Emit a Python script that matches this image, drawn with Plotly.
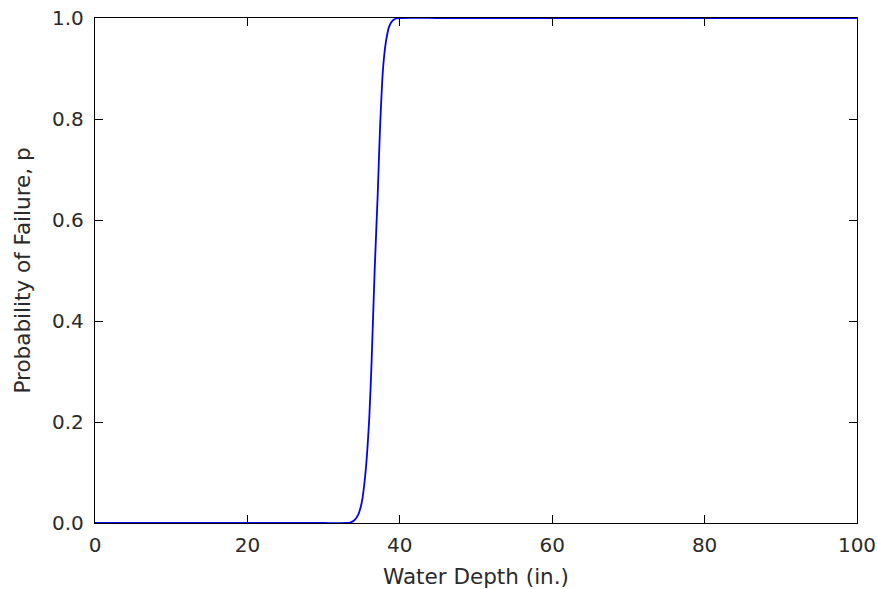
import plotly.graph_objects as go

# Water depth (in.) and probability of failure
depth = [0, 5, 10, 15, 20, 25, 30, 33, 33.5, 34, 34.5, 35, 35.5, 36, 36.3, 36.7,
         37.1, 37.4, 37.8, 38.2, 38.6, 39.0, 39.5, 40, 45, 50, 60, 70, 80, 90, 100]
prob = [0.0, 0.0, 0.0, 0.0, 0.0, 0.0, 0.0, 0.0, 0.001, 0.005, 0.015, 0.04, 0.10, 0.21,
        0.32, 0.50, 0.65, 0.78, 0.90, 0.955, 0.983, 0.994, 0.999, 1.0, 1.0, 1.0,
        1.0, 1.0, 1.0, 1.0, 1.0]

x_ticks = [0, 20, 40, 60, 80, 100]
y_ticks = [0.0, 0.2, 0.4, 0.6, 0.8, 1.0]
y_tick_labels = ["0.0", "0.2", "0.4", "0.6", "0.8", "1.0"]

TXT = "#2a2a2a"
FONT = "DejaVu Sans"

fig = go.Figure()
fig.add_trace(go.Scatter(x=depth, y=prob, mode="lines",
                         line=dict(color="#0000ff", width=1.8, shape="spline", smoothing=0.6),
                         showlegend=False, hoverinfo="skip"))

axis_common = dict(showline=True, linecolor="black", linewidth=1.4, mirror="ticks",
                   ticks="inside", ticklen=8, tickwidth=1, tickcolor="black",
                   showgrid=False, zeroline=False, automargin=False,
                   ticklabeloverflow="allow",
                   tickfont=dict(family=FONT, size=20, color=TXT))

fig.update_xaxes(range=[0, 100], tickvals=x_ticks, ticklabelstandoff=4,
                 title=dict(text="Water Depth (in.)",
                            font=dict(family=FONT, size=21.5, color=TXT)),
                 **axis_common)
fig.update_yaxes(range=[0, 1], tickvals=y_ticks, ticktext=y_tick_labels,
                 ticklabelstandoff=6,
                 title=dict(text="Probability of Failure, p",
                            font=dict(family=FONT, size=21.5, color=TXT)),
                 **axis_common)

fig.update_layout(width=877, height=589,
                  margin=dict(l=95, r=20, t=18, b=66),
                  paper_bgcolor="white", plot_bgcolor="white")

fig.write_html("out.html", config={"displayModeBar": False},
               post_script="document.body.style.margin='0';document.body.style.overflow='hidden';")
